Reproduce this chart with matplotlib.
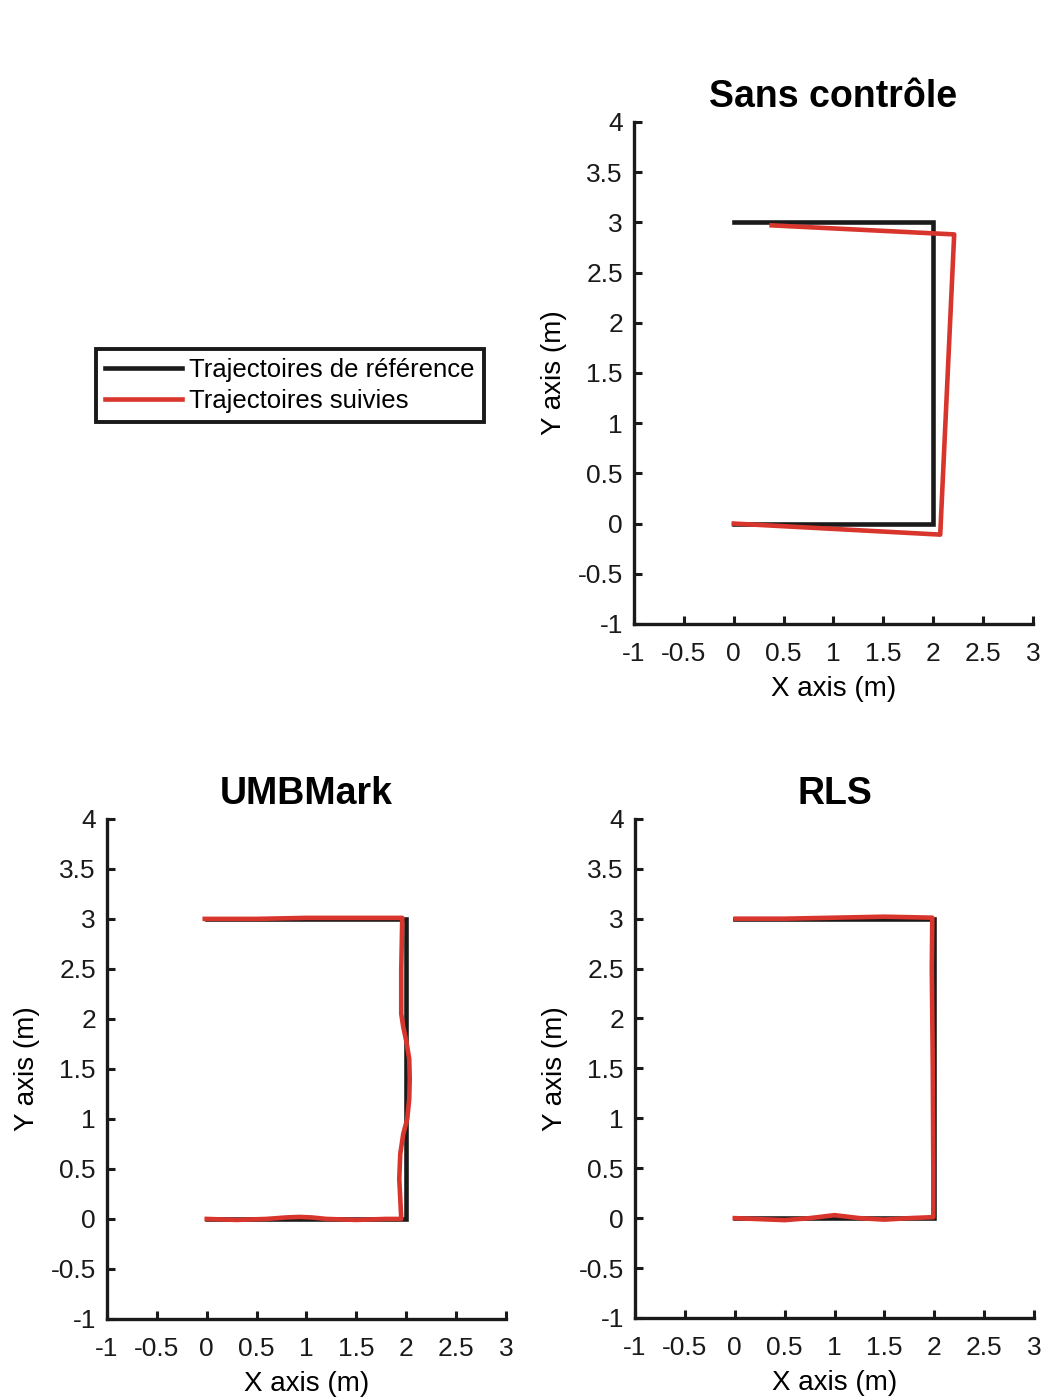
import matplotlib
matplotlib.use("Agg")
import matplotlib.pyplot as plt
from matplotlib.lines import Line2D

plt.rcParams['font.family'] = ['Liberation Sans', 'DejaVu Sans']
plt.rcParams['axes.unicode_minus'] = False

# Reference trajectory (square path)
ref_x = [0, 2, 2, 0]
ref_y = [0, 0, 3, 3]

# Followed trajectory - no control
sans_x = [0.0, 2.07, 2.21, 0.38]
sans_y = [0.0, -0.11, 2.88, 2.97]

# Followed trajectory - UMBMark
umb_x = [0.0, 0.3, 0.6, 0.8, 0.93, 1.05, 1.2, 1.5, 1.8, 1.95,
         1.94, 1.93, 1.94, 1.97, 2.01, 2.03, 2.035, 2.03, 2.0, 1.97, 1.95, 1.95, 1.96,
         1.5, 1.0, 0.5, -0.02]
umb_y = [0.0, -0.01, 0.0, 0.015, 0.02, 0.015, 0.0, -0.01, 0.0, 0.0,
         0.2, 0.4, 0.65, 0.85, 1.0, 1.2, 1.4, 1.6, 1.78, 1.92, 2.05, 2.5, 3.01,
         3.01, 3.01, 3.0, 3.0]

# Followed trajectory - RLS
rls_x = [0.0, 0.25, 0.5, 0.75, 1.0, 1.25, 1.5, 1.75, 1.99, 1.99, 1.985, 1.98, 1.975, 1.98, 1.5, 1.0, 0.5, 0.01]
rls_y = [0.0, -0.01, -0.02, 0.0, 0.03, 0.0, -0.015, 0.0, 0.01, 0.5, 1.5, 2.0, 2.5, 3.01, 3.02, 3.01, 3.0, 3.0]

titles = ["Sans contrôle", "UMBMark", "RLS"]
ytick_vals = [-1, -0.5, 0, 0.5, 1, 1.5, 2, 2.5, 3, 3.5, 4]
xtick_vals = [-1, -0.5, 0, 0.5, 1, 1.5, 2, 2.5, 3]


def fmt(v):
    return "%g" % v


legend_labels = ["Trajectoires de référence", "Trajectoires suivies"]

ref_color = "#1a1a1a"
red_color = "#d8352d"

fig = plt.figure(figsize=(10.5, 14), dpi=100)
positions = [
    [0.6038, 0.5543, 0.380, 0.3586],
    [0.1019, 0.0579, 0.380, 0.3572],
    [0.6048, 0.0586, 0.380, 0.3565],
]
followed = [(sans_x, sans_y), (umb_x, umb_y), (rls_x, rls_y)]

for pos, title, (fx, fy) in zip(positions, titles, followed):
    ax = fig.add_axes(pos)
    ax.plot(ref_x, ref_y, color=ref_color, lw=3.3, solid_joinstyle='miter', zorder=2)
    ax.plot(fx, fy, color=red_color, lw=3.3, solid_joinstyle='round', zorder=3)
    ax.set_xlim(-1, 3)
    ax.set_ylim(-1, 4)
    ax.set_xticks(xtick_vals)
    ax.set_xticklabels([fmt(v) for v in xtick_vals])
    ax.set_yticks(ytick_vals)
    ax.set_yticklabels([fmt(v) for v in ytick_vals])
    for s in ['top', 'right']:
        ax.spines[s].set_visible(False)
    for s in ['left', 'bottom']:
        ax.spines[s].set_linewidth(2.4)
        ax.spines[s].set_color('#1a1a1a')
    ax.tick_params(direction='in', length=6, width=2.2, labelsize=19, colors='#1a1a1a')
    ax.tick_params(axis='y', pad=8)
    ax.tick_params(axis='x', pad=13)
    ax.set_xlabel("X axis (m)", fontsize=20, labelpad=7)
    ax.set_ylabel("Y axis (m)", fontsize=20, labelpad=8)
    ax.set_title(title, fontsize=27, fontweight='bold', pad=11)

handles = [Line2D([0], [0], color=ref_color, lw=3.3),
           Line2D([0], [0], color=red_color, lw=3.3)]
leg = fig.legend(handles, legend_labels, loc='center', bbox_to_anchor=(0.2762, 0.7246),
                 fontsize=18.5, frameon=True, fancybox=False, framealpha=1.0,
                 handlelength=3.0, handletextpad=0.28, borderpad=0.35,
                 labelspacing=0.3, borderaxespad=0)
leg.get_frame().set_edgecolor('#1a1a1a')
leg.get_frame().set_linewidth(2.8)

fig.savefig("out.png", dpi=100, facecolor='white')
